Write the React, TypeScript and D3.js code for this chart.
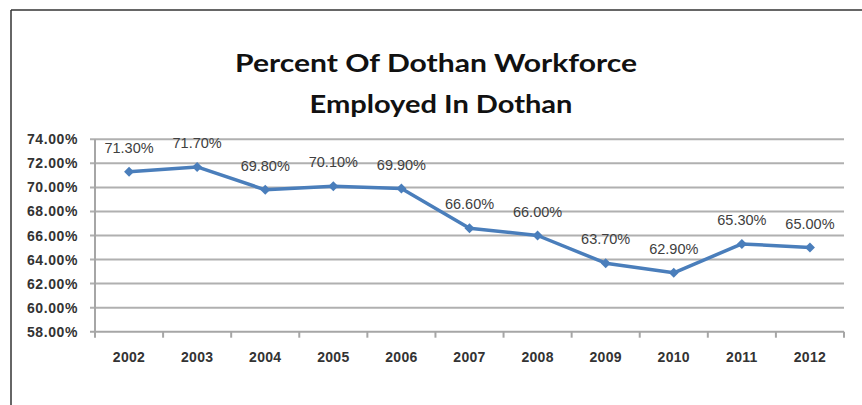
import React from "react";
import * as d3 from "d3";

const years = ["2002", "2003", "2004", "2005", "2006", "2007", "2008", "2009", "2010", "2011", "2012"];
const values = [71.3, 71.7, 69.8, 70.1, 69.9, 66.6, 66.0, 63.7, 62.9, 65.3, 65.0];
const yTicks = [58, 60, 62, 64, 66, 68, 70, 72, 74];
const titleLines = ["Percent Of Dothan Workforce", "Employed In Dothan"];

const W = 862;
const H = 405;
const left = 95;
const right = 844;
const top = 139.3;
const bottom = 331.7;

export default function App() {
  const x = d3.scaleBand<string>().domain(years).range([left, right]).padding(0);
  const y = d3.scaleLinear().domain([58, 74]).range([bottom, top]);
  const cx = (yr: string) => (x(yr) as number) + x.bandwidth() / 2;
  const line = d3
    .line<number>()
    .x((_, i) => cx(years[i]))
    .y((v) => y(v));
  const diamond = d3.symbol().type(d3.symbolSquare).size(50)() as string;
  const gridColor = "#b0b0b0";
  const axisColor = "#a6a6a6";
  const boundaries = years.map((yr) => x(yr) as number).concat([right]);

  return (
    <svg
      width={W}
      height={H}
      style={{ position: "absolute", left: 0, top: 0, background: "#fff" }}
      fontFamily="'Liberation Sans', Arial, sans-serif"
    >
      <rect x={0} y={0} width={W} height={H} fill="#fff" />
      {/* outer border */}
      <line x1={11} y1={10} x2={W} y2={10} stroke="#333" strokeWidth={1.5} />
      <line x1={11} y1={10} x2={11} y2={H} stroke="#333" strokeWidth={1.5} />

      {/* title */}
      <text x={436} y={72} textAnchor="middle" fontFamily="Lato, 'Open Sans', sans-serif" fontWeight="bold" fontSize={24} fill="#111" textLength={402} lengthAdjust="spacingAndGlyphs">
        {titleLines[0]}
      </text>
      <text x={441} y={113} textAnchor="middle" fontFamily="Lato, 'Open Sans', sans-serif" fontWeight="bold" fontSize={24} fill="#111" textLength={263} lengthAdjust="spacingAndGlyphs">
        {titleLines[1]}
      </text>

      {/* gridlines */}
      {yTicks.map((t) => (
        <line key={t} x1={left - 5} x2={right} y1={y(t)} y2={y(t)} stroke={t === 58 ? axisColor : gridColor} strokeWidth={2} />
      ))}
      {/* y axis */}
      <line x1={left} x2={left} y1={top} y2={bottom} stroke={axisColor} strokeWidth={2} />
      {/* x tick marks */}
      {boundaries.map((b, i) => (
        <line key={i} x1={b} x2={b} y1={bottom} y2={bottom + 6} stroke={axisColor} strokeWidth={2} />
      ))}

      {/* y tick labels */}
      {yTicks.map((t) => (
        <text key={t} x={78} y={y(t) + 5} textAnchor="end" fontWeight="bold" fontSize={14} fill="#333" letterSpacing={0.6}>
          {t.toFixed(2) + "%"}
        </text>
      ))}
      {/* x labels */}
      {years.map((yr) => (
        <text key={yr} x={cx(yr)} y={362} textAnchor="middle" fontWeight="bold" fontSize={14} fill="#333" letterSpacing={0.3}>
          {yr}
        </text>
      ))}

      {/* series line */}
      <path d={line(values) as string} fill="none" stroke="#4a7ebb" strokeWidth={3.5} strokeLinejoin="round" />
      {values.map((v, i) => (
        <path key={i} d={diamond} transform={`translate(${cx(years[i])},${y(v)}) rotate(45)`} fill="#4a7ebb" />
      ))}
      {/* data labels */}
      {values.map((v, i) => (
        <text key={i} x={cx(years[i])} y={y(v) - 19} textAnchor="middle" fontSize={14.5} fill="#404040">
          {v.toFixed(2) + "%"}
        </text>
      ))}
    </svg>
  );
}
